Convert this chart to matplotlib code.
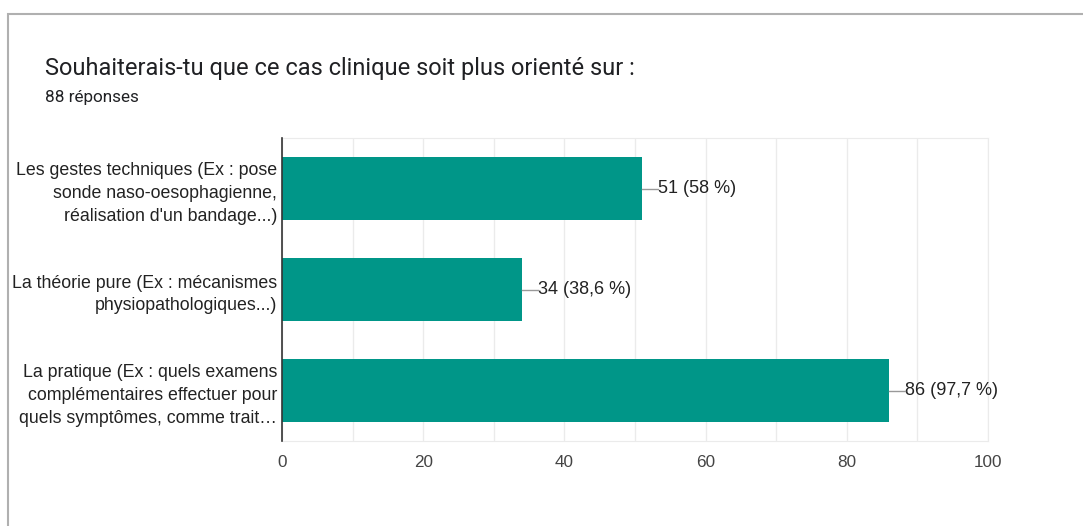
import matplotlib.pyplot as plt
from matplotlib.patches import Rectangle

# données
categories = [
    "Les gestes techniques (Ex : pose\nsonde naso-oesophagienne,\nréalisation d'un bandage...)",
    "La théorie pure (Ex : mécanismes\nphysiopathologiques...)",
    "La pratique (Ex : quels examens\ncomplémentaires effectuer pour\nquels symptômes, comme trait…",
]
counts = [51, 34, 86]
percent_labels = ["58 %", "38,6 %", "97,7 %"]
x_ticks = [0, 20, 40, 60, 80, 100]

plt.rcParams['font.family'] = ['Liberation Sans', 'DejaVu Sans']

fig = plt.figure(figsize=(10.83, 5.26), dpi=100)
fig.patch.set_facecolor('white')

# cadre gris de la carte
fig.add_artist(Rectangle((8 / 1083, -0.1), 1.2, 1 - 14 / 526 + 0.1,
                         transform=fig.transFigure, fill=False,
                         edgecolor='#b0b0b0', linewidth=1.5))

fig.text(45 / 1083, 1 - 75 / 526, 'Souhaiterais-tu que ce cas clinique soit plus orienté sur :',
         fontsize=17, color='#202124', family=['Roboto', 'DejaVu Sans'], va='baseline')
fig.text(45 / 1083, 1 - 102 / 526, '88 réponses', fontsize=12.3, color='#202124',
         family=['Roboto', 'DejaVu Sans'], va='baseline')

ax = fig.add_axes([282 / 1083, 1 - 441 / 526, 706 / 1083, 303 / 526])
y = list(range(len(categories)))
ax.barh(y, counts, height=0.62, color='#009688', zorder=3)

ax.set_xlim(0, 100)
ax.set_ylim(len(categories) - 0.5, -0.5)
ax.set_yticks(y)
ax.set_yticklabels(categories, fontsize=12.8, color='#222222', linespacing=1.45)
ax.set_xticks(x_ticks)
ax.set_xticklabels([str(t) for t in x_ticks], fontsize=12.3, color='#444444')
ax.set_xticks(range(10, 100, 20), minor=True)
ax.tick_params(axis='y', length=0, pad=3.5)
ax.tick_params(axis='x', length=0, pad=10)
ax.tick_params(axis='x', which='minor', length=0)
ax.grid(axis='x', which='both', color='#ebebeb', linewidth=1, zorder=0)

for side in ['top', 'right', 'bottom']:
    ax.spines[side].set_color('#ebebeb')
ax.spines['left'].set_color('#333333')
ax.spines['left'].set_linewidth(1.2)
ax.spines['left'].set_zorder(4)

for yi, c, p in zip(y, counts, percent_labels):
    ax.plot([c, c + 2.2], [yi, yi], color='#999999', linewidth=1, zorder=4)
    ax.text(c + 2.2, yi, f'{c} ({p})', fontsize=13, color='#222222', va='center', ha='left')

fig.savefig('out.png', dpi=100, facecolor='white')
